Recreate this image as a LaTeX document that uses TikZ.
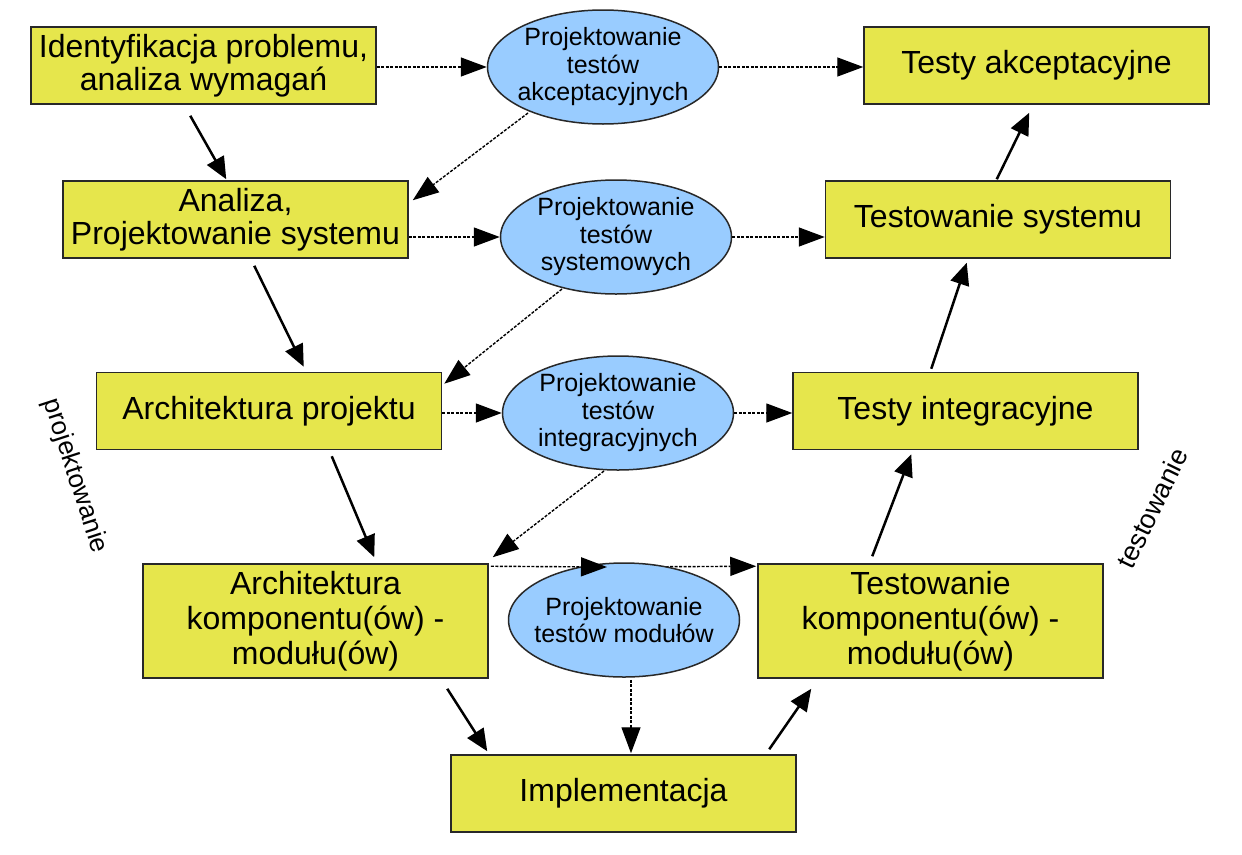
\documentclass[tikz,border=0pt]{standalone}
\usepackage{fontspec}
\setmainfont{Liberation Sans}
\usetikzlibrary{arrows.meta,shapes.geometric,calc}
\definecolor{boxyellow}{RGB}{230,230,76}
\definecolor{ellblue}{RGB}{153,204,255}
\definecolor{edgegray}{RGB}{40,40,40}
\pgfdeclarelayer{background}
\pgfsetlayers{background,main}
\begin{document}
\begin{tikzpicture}[x=1pt,y=-1pt,
  stepbox/.style={draw=edgegray, fill=boxyellow, line width=1.5pt, minimum width=345pt, minimum height=77pt, inner sep=0pt, align=center, font=\fontsize{32}{33}\selectfont},
  tallbox/.style={stepbox, minimum height=114pt, font=\fontsize{32}{35}\selectfont},
  testell/.style={ellipse, draw=edgegray, fill=ellblue, line width=1.5pt, minimum width=231pt, minimum height=114pt, inner sep=0pt},
  elltext/.style={align=center, inner sep=0pt, font=\fontsize{25}{27.5}\selectfont},
  flow/.style={-{Triangle[length=22pt,width=19pt]}, line width=2.5pt, black},
  design/.style={-{Triangle[length=26pt,width=19pt]}, line width=1.4pt, dash pattern=on 3pt off 1.5pt, black},
  side/.style={inner sep=0pt}
]
\begin{pgfonlayer}{background}
\fill[white] (0,0) rectangle (1242,854);
\end{pgfonlayer}
\useasboundingbox (0,0) rectangle (1242,854);

% boxes
\node[stepbox] (b1) at (203.5,65.5) {Identyfikacja problemu,\\analiza wymagań};
\node[stepbox] (b2) at (235.5,219.5) {Analiza,\\Projektowanie systemu};
\node[stepbox] (b3) at (269,411) {Architektura projektu};
\node[tallbox] (b4) at (315.5,621) {Architektura\\komponentu(ów) -\\modułu(ów)};
\node[stepbox] (b5) at (623.5,793.5) {Implementacja};
\node[tallbox] (b6) at (930.5,621) {Testowanie\\komponentu(ów) -\\modułu(ów)};
\node[stepbox] (b7) at (965.5,411) {Testy integracyjne};
\node[stepbox] (b8) at (998,219.5) {Testowanie systemu};
\node[stepbox] (b9) at (1036.5,65.5) {Testy akceptacyjne};

% ellipses
\node[testell] (e1) at (603,67) {};
\node[elltext] (t1) at (e1) {Projektowanie\\testów\\akceptacyjnych};
\node[testell] (e2) at (616,237) {};
\node[elltext] (t2) at (e2) {Projektowanie\\testów\\systemowych};
\node[testell] (e3) at (618,413) {};
\node[elltext] (t3) at (e3) {Projektowanie\\testów\\integracyjnych};
\node[testell] (e4) at (624,620) {};
\node[elltext] (t4) at (e4) {Projektowanie\\testów modułów};

% side labels
\node[side, rotate=-72, font=\fontsize{26}{28}\selectfont] (pj) at (75,476) {projektowanie};
\node[side, rotate=64, font=\fontsize{27}{29}\selectfont] (ts) at (1152,508) {testowanie};

% solid flow arrows
\draw[flow] ($(b1.south west)+(160,11)$) -- ($(b2.north west)+(164,-1)$);
\draw[flow] ($(b2.south west)+(192,7)$) -- ($(b3.north west)+(208,-5)$);
\draw[flow] ($(b3.south west)+(236,6)$) -- ($(b4.north west)+(232,-6)$);
\draw[flow] ($(b4.south west)+(305,10)$) -- ($(b5.north west)+(37,-3)$);
\draw[flow] ($(b5.north west)+(319,-5)$) -- ($(b6.south west)+(54,10)$);
\draw[flow] ($(b6.north west)+(115,-7)$) -- ($(b7.south west)+(119,4)$);
\draw[flow] ($(b7.north west)+(139,-3)$) -- ($(b8.south west)+(142,4)$);
\draw[flow] ($(b8.north west)+(172,-1)$) -- ($(b9.south west)+(166,8)$);

% dashed design arrows
\draw[design] (b1.east |- e1.west) -- (e1.west);
\draw[design] (e1.east) -- (e1.east -| b9.west);
\draw[design] ($(e1.center)+(-75,46)$) -- ($(b2.north east)+(4,20)$);
\draw[design] (b2.east |- e2.west) -- (e2.west);
\draw[design] (e2.east) -- (e2.east -| b8.west);
\draw[design] ($(e2.center)+(-54,52)$) -- ($(b3.north east)+(2,12)$);
\draw[design] (b3.east |- e3.west) -- (e3.west);
\draw[design] (e3.east) -- (e3.east -| b7.west);
\draw[design] ($(e3.center)+(-14,58)$) -- ($(b4.north east)+(4,-6)$);
\draw[design] ($(b4.north east)+(2,3)$) -- ($(e4.center)+(-17,-53)$);
\begin{pgfonlayer}{background}
\draw[design] ($(e4.center)+(-17,-53)$) -- ($(b6.north west)+(-1,3)$);
\end{pgfonlayer}
\draw[design] ($(e4.south)+(7,2)$) -- ($(b5.north)+(7.5,-1)$);
\end{tikzpicture}
\end{document}
